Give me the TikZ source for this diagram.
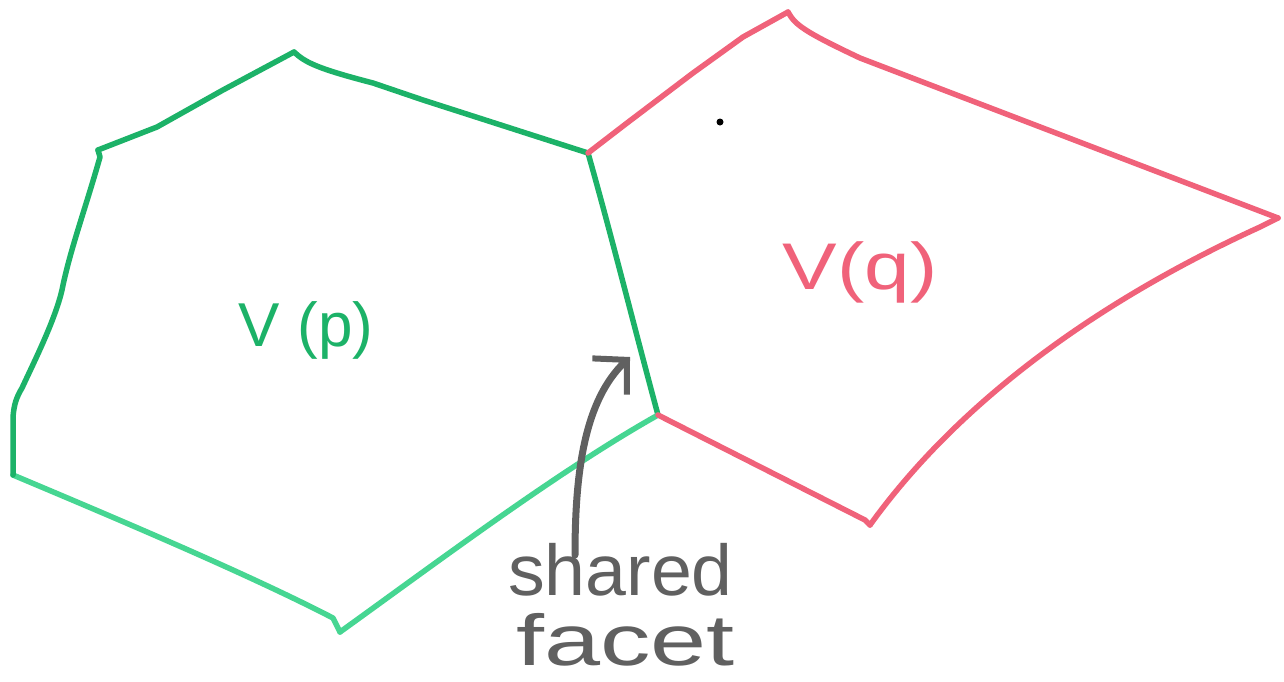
\documentclass[tikz,border=0pt]{standalone}
\usepackage{fontspec}
\setmainfont{Liberation Sans}
\usetikzlibrary{arrows.meta}
\definecolor{gdark}{RGB}{28,178,104}
\definecolor{glight}{RGB}{70,214,146}
\definecolor{rpink}{RGB}{240,98,122}
\definecolor{pen}{RGB}{96,96,96}
\tikzset{
  gedge/.style={draw=gdark,line width=5.5pt,line cap=round,line join=round},
  gedgel/.style={draw=glight,line width=5.5pt,line cap=round,line join=round},
  redge/.style={draw=rpink,line width=5.5pt,line cap=round,line join=round},
  lab/.style={inner sep=0pt,font=\fontsize{62}{62}\selectfont},
  pentext/.style={inner sep=0pt,text=pen,anchor=west,font=\fontsize{72}{72}\selectfont}
}
\begin{document}
\begin{tikzpicture}[x=1pt,y=-1pt]
\useasboundingbox (0,0) rectangle (1284,681);
% vertices
\coordinate (g1) at (98,150);
\coordinate (g2) at (294,52);
\coordinate (s1) at (588,153);
\coordinate (s2) at (658,415);
\coordinate (g5) at (340,632);
\coordinate (g6) at (13,475);
\coordinate (r1) at (788,12);
\coordinate (r2) at (1278,218);
\coordinate (r3) at (870,525);
% green cell V(p)
\draw[gedge] (g1) -- (157,127) -- (223,90) -- (g2);
\draw[gedge] (g2) .. controls (305,62) and (315,68) .. (373,83)
  -- (423,100) -- (s1);
\draw[gedge] (s1) .. controls (610,230) and (635,330) .. (s2);
\draw[gedgel] (s2) .. controls (560,470) and (440,560) .. (g5);
\draw[gedgel] (g5) -- (333,618) .. controls (250,575) and (120,520) .. (g6);
\draw[gedge] (g6) -- (13,417) .. controls (14,405) and (16,398) .. (22,388)
  .. controls (35,360) and (55,320) .. (62,290)
  .. controls (70,250) and (85,210) .. (100,157) -- (g1);
% red cell V(q)
\draw[redge] (s1) -- (627,123) -- (693,73) -- (743,37) -- (r1);
\draw[redge] (r1) .. controls (795,25) and (805,32) .. (860,58) -- (r2);
\draw[redge] (r2) -- (1260,227) .. controls (1100,300) and (960,400) .. (r3);
\draw[redge] (r3) -- (865,520) -- (s2);
% small dot
\fill[black] (720,122) circle (3.5pt);
% labels
\node[lab,text=gdark] (vp) at (306,330) {V (p)};
\node[lab,text=rpink,xscale=1.24,font=\fontsize{66}{66}\selectfont] (vq) at (860,272) {V(q)};
\node[pentext,xscale=1.02] (t1) at (508,570) {shared};
\node[pentext,xscale=1.4] (t2) at (516,640) {facet};
% arrow
\coordinate (atip) at (630,357);
\draw[draw=pen,line width=7pt,line cap=round,-{Straight Barb[length=24pt,width=50pt,line width=6pt]}]
  (575,555) .. controls (575,470) and (585,400) .. (atip);
\end{tikzpicture}
\end{document}
